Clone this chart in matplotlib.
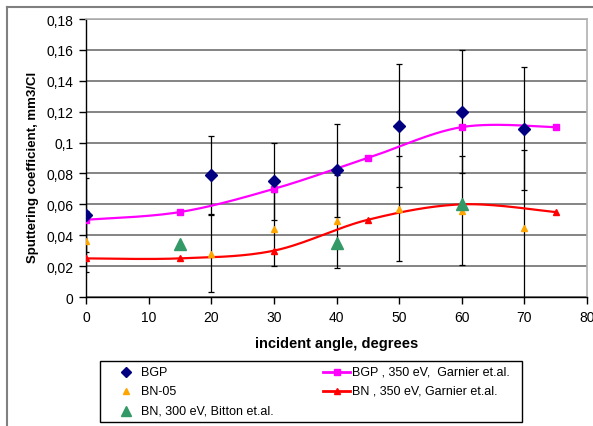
import numpy as np
import matplotlib
matplotlib.use("Agg")
import matplotlib.pyplot as plt
from matplotlib.lines import Line2D
from matplotlib.patches import Rectangle

plt.rcParams['font.family'] = ['Liberation Sans', 'DejaVu Sans']

# measured points
angles = [0, 20, 30, 40, 50, 60, 70]
bgp = [0.053, 0.079, 0.075, 0.082, 0.111, 0.120, 0.109]
bgp_err = [0.024, 0.025, 0.025, 0.030, 0.040, 0.040, 0.040]
bn05 = [0.036, 0.028, 0.044, 0.049, 0.057, 0.056, 0.045]
bn05_err = [0.020, 0.025, 0.024, 0.030, 0.034, 0.035, 0.050]

bitton_x = [15, 40, 60]
bitton_y = [0.034, 0.035, 0.060]

# Garnier et.al. curves
garnier_x = [0, 15, 30, 45, 60, 75]
garnier_bgp = [0.050, 0.055, 0.070, 0.090, 0.110, 0.110]
garnier_bn = [0.025, 0.025, 0.030, 0.050, 0.060, 0.055]

W, H = 593, 427


def smooth(xs, ys, n=30):
	'''Excel-like smoothed line: cubic bezier between points.'''
	p = np.column_stack([xs, ys]).astype(float)
	out = []
	for i in range(len(p) - 1):
		p0 = p[max(i - 1, 0)]
		p1 = p[i]
		p2 = p[i + 1]
		p3 = p[min(i + 2, len(p) - 1)]
		c1 = p1 + (p2 - p0) / 6
		c2 = p2 - (p3 - p1) / 6
		t = np.linspace(0, 1, n)[:, None]
		seg = ((1 - t) ** 3) * p1 + 3 * ((1 - t) ** 2) * t * c1 \
			+ 3 * (1 - t) * (t ** 2) * c2 + (t ** 3) * p2
		out.append(seg)
	out = np.vstack(out)
	return out[:, 0], out[:, 1]


def fx(px):
	return px / W


def fy(py):
	return 1 - py / H


fig = plt.figure(figsize=(W / 100, H / 100), dpi=100)
ax = fig.add_axes([fx(86), fy(298), 501 / W, 278 / H])

# error bars first so the markers sit on top
ax.errorbar(angles, bgp, yerr=bgp_err, fmt='none', ecolor='black',
	elinewidth=0.9, capsize=2.5, capthick=0.9, zorder=3)
ax.errorbar(angles, bn05, yerr=bn05_err, fmt='none', ecolor='black',
	elinewidth=0.9, capsize=2.5, capthick=0.9, zorder=3)

sx, sy = smooth(garnier_x, garnier_bgp)
ax.plot(sx, sy, color='#FF00FF', lw=1.6, zorder=4)
ax.plot(garnier_x, garnier_bgp, 's', color='#FF00FF', ms=4.5, zorder=4)
sx, sy = smooth(garnier_x, garnier_bn)
ax.plot(sx, sy, color='#FF0000', lw=1.6, zorder=4)
ax.plot(garnier_x, garnier_bn, '^', color='#FF0000', ms=5, zorder=4)

ax.plot(angles, bgp, 'D', color='#000080', ms=6, zorder=5)
ax.plot(angles, bn05, '^', color='#FFA500', ms=5, zorder=5)
ax.plot(bitton_x, bitton_y, '^', color='#339966', ms=8, zorder=5)

ax.set_xlim(0, 80)
ax.set_ylim(0, 0.18)
ax.set_xticks(range(0, 81, 10))
ax.set_yticks(np.arange(0, 0.181, 0.02))
ax.set_yticklabels(['0', '0,02', '0,04', '0,06', '0,08', '0,1', '0,12',
	'0,14', '0,16', '0,18'])
ax.tick_params(direction='out', length=5, width=1, labelsize=10, pad=4)
ax.yaxis.grid(True, color='#707070', lw=1.2)
ax.set_axisbelow(True)

for side in ['top', 'right']:
	ax.spines[side].set_color('#b0b0b0')
	ax.spines[side].set_linewidth(1.2)
for side in ['left', 'bottom']:
	ax.spines[side].set_color('black')
	ax.spines[side].set_linewidth(1)

ax.set_xlabel('incident angle, degrees', fontsize=10.5, fontweight='bold',
	labelpad=9)
ax.set_ylabel('Sputtering coefficient, mm3/Cl', fontsize=9.5, fontweight='bold')
ax.yaxis.set_label_coords(-0.094, 0.47)

# legend drawn by hand to match the Excel layout
fig.add_artist(Rectangle((fx(100), fy(423)), 422 / W, 61 / H, fill=False,
	edgecolor='black', lw=1, transform=fig.transFigure))

left_entries = [
	('BGP', dict(marker='D', color='#000080', ms=5)),
	('BN-05', dict(marker='^', color='#FFA500', ms=5)),
	('BN, 300 eV, Bitton et.al.', dict(marker='^', color='#339966', ms=7)),
]
right_entries = [
	('BGP , 350 eV,  Garnier et.al.', dict(marker='s', color='#FF00FF', ms=4)),
	('BN , 350 eV, Garnier et.al.', dict(marker='^', color='#FF0000', ms=5)),
]
rows = [373, 392, 412]
for (text, style), row in zip(left_entries, rows):
	fig.add_artist(Line2D([fx(126)], [fy(row)], ls='none',
		transform=fig.transFigure, **style))
	fig.text(fx(141), fy(row), text, fontsize=9, va='center', ha='left')
for (text, style), row in zip(right_entries, rows):
	fig.add_artist(Line2D([fx(323), fx(350)], [fy(row), fy(row)], lw=2,
		markevery=[0], transform=fig.transFigure, color=style['color']))
	fig.add_artist(Line2D([fx(336.5)], [fy(row)], ls='none',
		transform=fig.transFigure, **style))
	fig.text(fx(352), fy(row), text, fontsize=9, va='center', ha='left')

# outer chart border (top and left only visible)
fig.add_artist(Line2D([fx(7), fx(7)], [0, fy(8)], color='#808080', lw=1.5,
	transform=fig.transFigure))
fig.add_artist(Line2D([fx(7), 1], [fy(8), fy(8)], color='#808080', lw=1.5,
	transform=fig.transFigure))

fig.savefig('out.png', dpi=100)
